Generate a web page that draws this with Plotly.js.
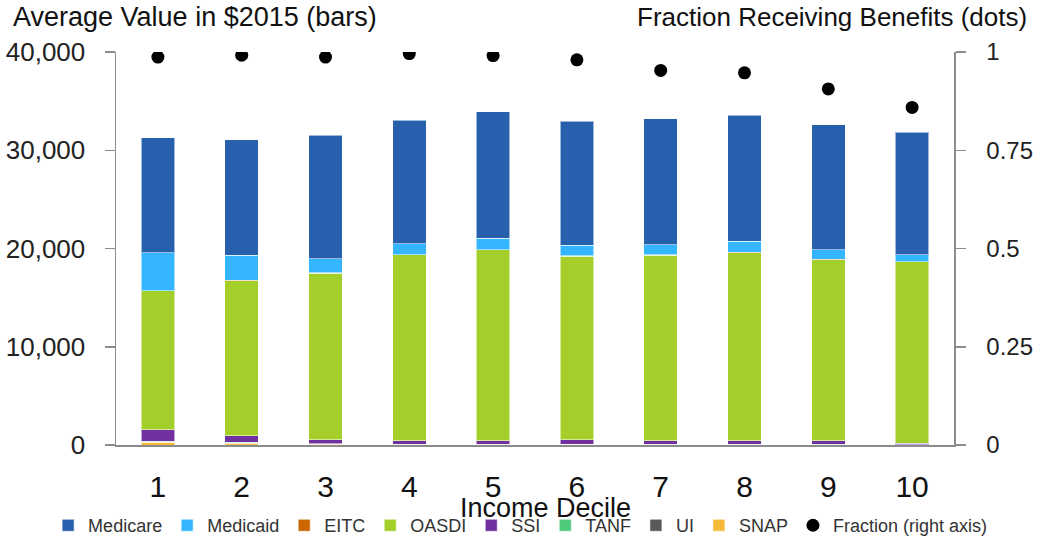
<!DOCTYPE html>
<html>
<head>
<meta charset="utf-8">
<script src="https://cdn.plot.ly/plotly-3.0.1.min.js"></script>
<style>html,body{margin:0;padding:0;background:#fff;}#chart{width:1037px;height:544px;}</style>
</head>
<body>
<div id="chart"></div>
<script>
const deciles = ["1","2","3","4","5","6","7","8","9","10"];
const SNAP     = [300, 200, 90, 50, 40, 60, 40, 40, 30, 20];
const UI       = [20, 30, 30, 30, 30, 30, 20, 20, 20, 10];
const TANF     = [60, 40, 20, 10, 10, 10, 10, 10, 10, 5];
const SSI      = [1180, 680, 370, 320, 330, 410, 340, 340, 350, 135];
const OASDI    = [14120, 15780, 16970, 18940, 19450, 18700, 18910, 19170, 18430, 18460];
const EITC     = [40, 60, 50, 30, 20, 60, 20, 20, 60, 10];
const Medicaid = [3860, 2530, 1410, 1120, 1170, 1070, 1030, 1140, 960, 710];
const Medicare = [11710, 11770, 12590, 12560, 12890, 12620, 12830, 12830, 12730, 12490];
const Fraction = [0.987, 0.992, 0.987, 0.996, 0.991, 0.980, 0.953, 0.947, 0.906, 0.859];

const FONT = '"Liberation Sans", Arial, sans-serif';
const edge = {color: 'rgba(255,255,255,0.55)', width: 1};

function barTrace(name, y, color, rank) {
  return {type: 'bar', name: name, x: deciles, y: y, legendrank: rank,
          marker: {color: color, line: edge}, hoverinfo: 'name+y'};
}

const traces = [
  barTrace('SNAP', SNAP, '#F5BA3A', 8),
  barTrace('UI', UI, '#595959', 7),
  barTrace('TANF', TANF, '#4ECB7A', 6),
  barTrace('SSI', SSI, '#7030A0', 5),
  barTrace('OASDI', OASDI, '#A4CF2A', 4),
  barTrace('EITC', EITC, '#CC6600', 3),
  barTrace('Medicaid', Medicaid, '#33B5FF', 2),
  barTrace('Medicare', Medicare, '#2760AC', 1),
  {type: 'scatter', mode: 'markers', name: 'Fraction (right axis)', x: deciles, y: Fraction,
   yaxis: 'y2', legendrank: 9, marker: {color: '#000', size: 13}}
];

const axisColor = '#8C8C8C';
const layout = {
  width: 1037, height: 544,
  margin: {l: 116, r: 83, t: 52, b: 99, autoexpand: false},
  paper_bgcolor: '#fff', plot_bgcolor: '#fff',
  barmode: 'stack', bargap: 0.6,
  font: {family: FONT, color: '#222'},
  showlegend: true,
  legend: {orientation: 'h', x: -0.081, xanchor: 'left', xref: 'paper', y: -0.205, yref: 'paper',
           yanchor: 'middle', bgcolor: 'rgba(0,0,0,0)',
           font: {size: 18, family: FONT, color: '#333'}, itemclick: false, traceorder: 'normal'},
  xaxis: {type: 'category', range: [-0.5, 9.5], autorange: false, showline: true, linecolor: axisColor,
          linewidth: 1.5, ticks: '', showgrid: false, zeroline: false,
          tickfont: {size: 30, family: FONT, color: '#111'}, ticklabelstandoff: 14},
  yaxis: {range: [0, 40000], dtick: 10000, tickformat: ',d', showline: true, linecolor: axisColor,
          linewidth: 1.5, ticks: 'outside', ticklen: 10, tickcolor: axisColor, tickwidth: 1.5,
          showgrid: false, zeroline: false, tickfont: {size: 26, family: FONT, color: '#222'},
          ticklabelstandoff: 14},
  yaxis2: {range: [0, 1], dtick: 0.25, overlaying: 'y', side: 'right', showline: true,
           linecolor: axisColor, linewidth: 1.5, ticks: 'outside', ticklen: 10, tickcolor: axisColor,
           tickwidth: 1.5, showgrid: false, zeroline: false,
           tickfont: {size: 24, family: FONT, color: '#222'}, ticklabelstandoff: 16},
  annotations: [
    {text: 'Average Value in $2015 (bars)', xref: 'paper', yref: 'paper', x: -0.125, y: 1.09,
     xanchor: 'left', yanchor: 'middle', showarrow: false, font: {size: 27, family: FONT, color: '#111'}},
    {text: 'Fraction Receiving Benefits (dots)', xref: 'paper', yref: 'paper', x: 1.09, y: 1.09,
     xanchor: 'right', yanchor: 'middle', showarrow: false, font: {size: 26, family: FONT, color: '#111'}},
    {text: 'Income Decile', xref: 'paper', yref: 'paper', x: 0.512, y: -0.16,
     xanchor: 'center', yanchor: 'middle', showarrow: false, font: {size: 27, family: FONT, color: '#111'}}
  ]
};

Plotly.newPlot('chart', traces, layout, {displayModeBar: false, staticPlot: true});
</script>
</body>
</html>
